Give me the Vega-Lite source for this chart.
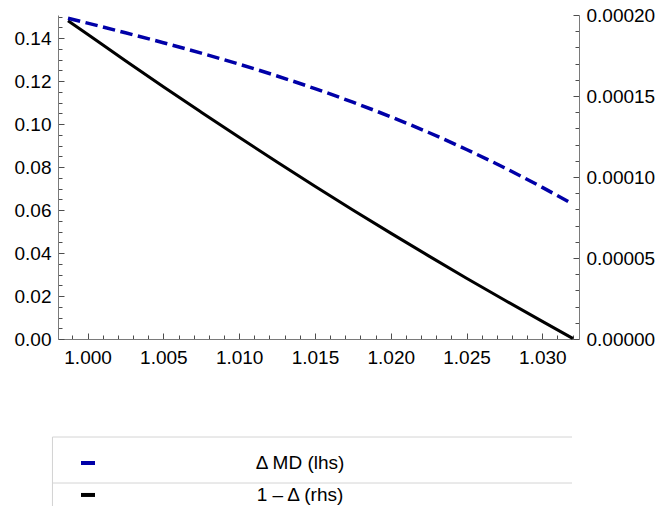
{
  "$schema": "https://vega.github.io/schema/vega-lite/v6.json",
  "padding": {"left": 14, "top": 6, "right": 0, "bottom": 0},
  "background": "white",
  "spacing": 67,
  "config": {
    "view": {"stroke": null},
    "font": "Liberation Sans",
    "axis": {
      "grid": false,
      "labelFont": "Liberation Sans",
      "labelFontSize": 19,
      "labelColor": "#000000",
      "domainColor": "#7a7a7a",
      "domainWidth": 1,
      "tickColor": "#4d4d4d",
      "tickWidth": 1,
      "labelOverlap": false,
      "labelFlush": false,
      "labelBound": false
    }
  },
  "vconcat": [
    {
      "width": 521,
      "height": 324,
      "data": {
        "values": [
          {"x": 0.99871, "dmd": 0.14916, "omd": 0.00019649},
          {"x": 1.0000, "dmd": 0.14693, "omd": 0.00018809},
          {"x": 1.0025, "dmd": 0.14244, "omd": 0.00017176},
          {"x": 1.0050, "dmd": 0.13781, "omd": 0.00015568},
          {"x": 1.0075, "dmd": 0.13296, "omd": 0.00014000},
          {"x": 1.0100, "dmd": 0.12781, "omd": 0.00012451},
          {"x": 1.0125, "dmd": 0.12234, "omd": 0.00010932},
          {"x": 1.0150, "dmd": 0.11646, "omd": 0.00009432},
          {"x": 1.0175, "dmd": 0.11015, "omd": 0.00007969},
          {"x": 1.0200, "dmd": 0.10335, "omd": 0.00006537},
          {"x": 1.0225, "dmd": 0.09605, "omd": 0.00005130},
          {"x": 1.0250, "dmd": 0.08814, "omd": 0.00003753},
          {"x": 1.0275, "dmd": 0.07965, "omd": 0.00002407},
          {"x": 1.0300, "dmd": 0.07051, "omd": 0.00001086},
          {"x": 1.03202, "dmd": 0.06270, "omd": 0.0000003}
        ]
      },
      "encoding": {
        "x": {
          "field": "x", "type": "quantitative",
          "scale": {"domain": [0.99805, 1.03242], "nice": false, "zero": false},
          "axis": {
            "title": null,
            "labelOverlap": false,
            "values": [0.999, 1, 1.001, 1.002, 1.003, 1.004, 1.005, 1.006, 1.007, 1.008, 1.009, 1.01, 1.011, 1.012, 1.013, 1.014, 1.015, 1.016, 1.017, 1.018, 1.019, 1.02, 1.021, 1.022, 1.023, 1.024, 1.025, 1.026, 1.027, 1.028, 1.029, 1.03, 1.031, 1.032],
            "labelExpr": "round(datum.value*1000) % 5 == 0 ? format(datum.value, '.3f') : ''",
            "tickSize": {"condition": {"test": "round(datum.value*1000) % 5 == 0", "value": -6}, "value": -4},
            "labelPadding": 15
          }
        }
      },
      "layer": [
        {
          "mark": {"type": "line", "color": "#000000", "strokeWidth": 3, "interpolate": "monotone"},
          "encoding": {
            "y": {
              "field": "omd", "type": "quantitative",
              "scale": {"domain": [0, 0.0002], "nice": false, "zero": false},
              "axis": {
                "title": null,
                "orient": "right",
                "labelOverlap": false,
                "values": [0, 0.00001, 0.00002, 0.00003, 0.00004, 0.00005, 0.00006, 0.00007, 0.00008, 0.00009, 0.0001, 0.00011, 0.00012, 0.00013, 0.00014, 0.00015, 0.00016, 0.00017, 0.00018, 0.00019, 0.0002],
                "labelExpr": "round(datum.value*1000000) % 50 == 0 ? format(datum.value, '.5f') : ''",
                "tickSize": {"condition": {"test": "round(datum.value*1000000) % 50 == 0", "value": -6}, "value": -4},
                "labelPadding": 13
              }
            }
          }
        },
        {
          "mark": {"type": "line", "color": "#0000a8", "strokeWidth": 3.5, "strokeDash": [12.5, 5.5], "interpolate": "monotone"},
          "encoding": {
            "y": {
              "field": "dmd", "type": "quantitative",
              "scale": {"domain": [0, 0.1507], "nice": false, "zero": false},
              "axis": {
                "title": null,
                "orient": "left",
                "labelOverlap": false,
                "values": [0, 0.005, 0.01, 0.015, 0.02, 0.025, 0.03, 0.035, 0.04, 0.045, 0.05, 0.055, 0.06, 0.065, 0.07, 0.075, 0.08, 0.085, 0.09, 0.095, 0.1, 0.105, 0.11, 0.115, 0.12, 0.125, 0.13, 0.135, 0.14, 0.145, 0.15],
                "labelExpr": "round(datum.value*1000) % 20 == 0 ? format(datum.value, '.2f') : ''",
                "tickSize": {"condition": {"test": "round(datum.value*1000) % 20 == 0", "value": -6}, "value": -4},
                "labelPadding": 13
              }
            }
          }
        }
      ],
      "resolve": {"scale": {"y": "independent"}, "axis": {"y": "independent"}}
    },
    {
      "width": 521,
      "height": 69,
      "data": {"values": [{"label": "Δ MD (lhs)"}, {"label": "1 – Δ (rhs)"}]},
      "layer": [
        {
          "mark": {"type": "rule", "color": "#d4d4d4", "strokeWidth": 1},
          "encoding": {
            "x": {"datum": -0.0106, "type": "quantitative", "scale": {"domain": [0, 1]}, "axis": null},
            "x2": {"datum": 0.9866},
            "y": {"field": "label", "type": "nominal", "bandPosition": 0, "axis": null,
                  "scale": {"domain": ["Δ MD (lhs)", "1 – Δ (rhs)"], "range": [0, 92], "paddingInner": 0, "paddingOuter": 0}}
          }
        },
        {
          "mark": {"type": "rule", "color": "#d4d4d4", "strokeWidth": 1},
          "encoding": {
            "x": {"datum": -0.0106, "type": "quantitative"}
          }
        },
        {
          "transform": [{"filter": "datum.label == 'Δ MD (lhs)'"}],
          "mark": {"type": "rule", "color": "#0000a8", "strokeWidth": 4},
          "encoding": {
            "x": {"datum": 0.0441, "type": "quantitative"},
            "x2": {"datum": 0.0710},
            "y": {"field": "label", "type": "nominal", "bandPosition": 0.565}
          }
        },
        {
          "transform": [{"filter": "datum.label == 'Δ MD (lhs)'"}],
          "mark": {"type": "text", "fontSize": 19, "align": "center", "baseline": "middle", "font": "Liberation Sans", "color": "#000000"},
          "encoding": {
            "x": {"datum": 0.4645, "type": "quantitative"},
            "y": {"field": "label", "type": "nominal", "bandPosition": 0.565},
            "text": {"field": "label"}
          }
        },
        {
          "transform": [{"filter": "datum.label == '1 – Δ (rhs)'"}],
          "mark": {"type": "rule", "color": "#000000", "strokeWidth": 4},
          "encoding": {
            "x": {"datum": 0.0441, "type": "quantitative"},
            "x2": {"datum": 0.0710},
            "y": {"field": "label", "type": "nominal", "bandPosition": 0.26}
          }
        },
        {
          "transform": [{"filter": "datum.label == '1 – Δ (rhs)'"}],
          "mark": {"type": "text", "fontSize": 19, "align": "center", "baseline": "middle", "font": "Liberation Sans", "color": "#000000"},
          "encoding": {
            "x": {"datum": 0.4645, "type": "quantitative"},
            "y": {"field": "label", "type": "nominal", "bandPosition": 0.26},
            "text": {"field": "label"}
          }
        }
      ]
    }
  ]
}
